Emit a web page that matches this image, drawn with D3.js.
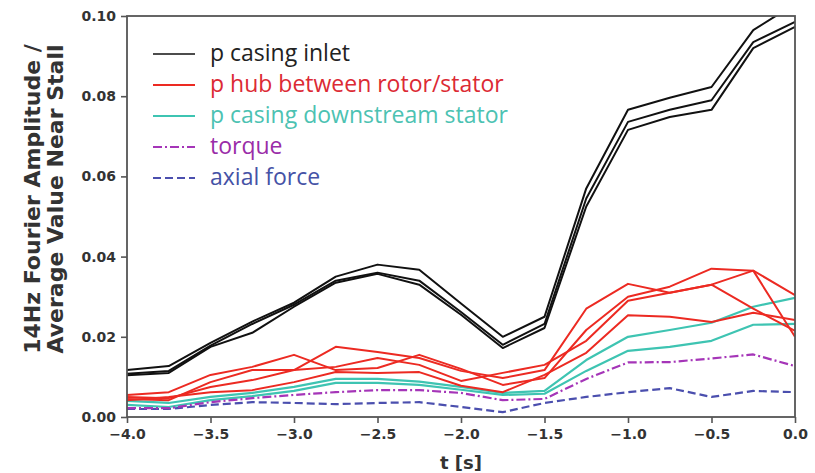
<!DOCTYPE html>
<html>
<head>
<meta charset="utf-8">
<script src="https://cdn.jsdelivr.net/npm/d3@7/dist/d3.min.js"></script>
<style>
  html, body { margin: 0; padding: 0; background: #fff; }
  svg { display: block; }
</style>
</head>
<body>
<svg id="chart" width="815" height="473"></svg>
<script>
// time axis (s before stall)
const times = [-4.0, -3.75, -3.5, -3.25, -3.0, -2.75, -2.5, -2.25, -2.0, -1.75, -1.5, -1.25, -1.0, -0.75, -0.5, -0.25, 0.0];

// casing inlet pressure probes
const casingInletA = [0.0117, 0.0127, 0.0185, 0.0238, 0.0285, 0.0350, 0.0380, 0.0367, 0.0283, 0.0200, 0.0250, 0.0570, 0.0766, 0.0796, 0.0823, 0.0965, 0.1030];
const casingInletB = [0.0108, 0.0115, 0.0178, 0.0232, 0.0280, 0.0340, 0.0360, 0.0340, 0.0262, 0.0180, 0.0232, 0.0545, 0.0736, 0.0766, 0.0790, 0.0935, 0.0985];
const casingInletC = [0.0104, 0.0110, 0.0175, 0.0210, 0.0275, 0.0335, 0.0357, 0.0330, 0.0255, 0.0172, 0.0222, 0.0525, 0.0716, 0.0748, 0.0766, 0.0920, 0.0973];

// hub pressure probes between rotor and stator
const hubA = [0.0050, 0.0047, 0.0075, 0.0092, 0.0117, 0.0175, 0.0162, 0.0147, 0.0115, 0.0097, 0.0117, 0.0270, 0.0332, 0.0310, 0.0330, 0.0365, 0.0304];
const hubB = [0.0055, 0.0062, 0.0105, 0.0125, 0.0155, 0.0117, 0.0122, 0.0155, 0.0120, 0.0080, 0.0097, 0.0217, 0.0300, 0.0325, 0.0370, 0.0365, 0.0200];
const hubC = [0.0045, 0.0042, 0.0087, 0.0117, 0.0117, 0.0125, 0.0147, 0.0130, 0.0090, 0.0110, 0.0130, 0.0190, 0.0290, 0.0310, 0.0330, 0.0270, 0.0215];
const hubD = [0.0042, 0.0050, 0.0062, 0.0067, 0.0087, 0.0112, 0.0110, 0.0112, 0.0078, 0.0062, 0.0105, 0.0160, 0.0254, 0.0250, 0.0237, 0.0260, 0.0242];

// casing pressure probes downstream of the stator
const downstreamA = [0.0040, 0.0035, 0.0050, 0.0060, 0.0075, 0.0095, 0.0095, 0.0088, 0.0075, 0.0060, 0.0065, 0.0142, 0.0200, 0.0217, 0.0235, 0.0275, 0.0297];
const downstreamB = [0.0030, 0.0025, 0.0042, 0.0052, 0.0065, 0.0085, 0.0085, 0.0080, 0.0068, 0.0055, 0.0058, 0.0115, 0.0165, 0.0175, 0.0190, 0.0230, 0.0232];

// rotor loads
const torque = [0.0022, 0.0022, 0.0037, 0.0047, 0.0055, 0.0062, 0.0067, 0.0067, 0.0060, 0.0042, 0.0045, 0.0095, 0.0136, 0.0137, 0.0146, 0.0156, 0.0127];
const axialForce = [0.0020, 0.0020, 0.0030, 0.0037, 0.0035, 0.0032, 0.0035, 0.0037, 0.0025, 0.0012, 0.0035, 0.0050, 0.0062, 0.0072, 0.0050, 0.0065, 0.0062];

const xTicks = [-4.0, -3.5, -3.0, -2.5, -2.0, -1.5, -1.0, -0.5, 0.0];
const yTicks = [0.00, 0.02, 0.04, 0.06, 0.08, 0.10];

const legendLabels = ["p casing inlet", "p hub between rotor/stator", "p casing downstream stator", "torque", "axial force"];

// ---- styles ----
const styles = {
  inlet:      { color: "#111111", dash: null,        width: 2.0 },
  hub:        { color: "#ec2a22", dash: null,        width: 2.0 },
  downstream: { color: "#3ec4b2", dash: null,        width: 2.2 },
  torque:     { color: "#a535b8", dash: "9,3,2,3",   width: 2.2 },
  axial:      { color: "#4b4fae", dash: "8,4",       width: 2.2 }
};
const legendText = ["#222222", "#dc2a34", "#4cc2b2", "#9a2ca8", "#4552a6"];

const series = [
  { key: "inlet", values: casingInletA }, { key: "inlet", values: casingInletB }, { key: "inlet", values: casingInletC },
  { key: "downstream", values: downstreamA }, { key: "downstream", values: downstreamB },
  { key: "axial", values: axialForce },
  { key: "torque", values: torque },
  { key: "hub", values: hubA }, { key: "hub", values: hubB }, { key: "hub", values: hubC }, { key: "hub", values: hubD }
];

const margin = { left: 127, right: 20, top: 16, bottom: 56 };
const W = 815, H = 473;
const iw = W - margin.left - margin.right;
const ih = H - margin.top - margin.bottom;

const x = d3.scaleLinear().domain([-4, 0]).range([0, iw]);
const y = d3.scaleLinear().domain([0, 0.10]).range([ih, 0]);

const svg = d3.select("#chart");
const g = svg.append("g").attr("transform", `translate(${margin.left},${margin.top})`);

g.append("defs").append("clipPath").attr("id", "plotClip")
  .append("rect").attr("x", 0).attr("y", 0).attr("width", iw).attr("height", ih);

const line = d3.line().x((d, i) => x(times[i])).y(d => y(d));

const lines = g.append("g").attr("clip-path", "url(#plotClip)");
series.forEach(s => {
  const st = styles[s.key];
  lines.append("path")
    .datum(s.values)
    .attr("d", line)
    .attr("fill", "none")
    .attr("stroke", st.color)
    .attr("stroke-width", st.width)
    .attr("stroke-linejoin", "round")
    .attr("stroke-dasharray", st.dash);
});

// axes
const axisColor = "#555";
const tickFont = "DejaVu Sans, sans-serif";

const xAxis = g.append("g").attr("transform", `translate(0,${ih})`)
  .call(d3.axisBottom(x).tickValues(xTicks).tickFormat(d => d3.format(".1f")(d).replace("-", "\u2212")).tickSize(6).tickPadding(6));
const yAxis = g.append("g")
  .call(d3.axisLeft(y).tickValues(yTicks).tickFormat(d3.format(".2f")).tickSize(6).tickPadding(5));

[xAxis, yAxis].forEach(a => {
  a.select(".domain").remove();
  a.selectAll(".tick line").attr("stroke", axisColor).attr("stroke-width", 1.6);
  a.selectAll(".tick text")
    .attr("fill", "#333")
    .style("font-family", tickFont)
    .style("font-size", "14px")
    .style("font-weight", "bold");
});

// frame
g.append("rect").attr("x", 0).attr("y", 0).attr("width", iw).attr("height", ih)
  .attr("fill", "none").attr("stroke", axisColor).attr("stroke-width", 1.8);

// axis titles
svg.append("text")
  .attr("x", margin.left + iw / 2).attr("y", 469)
  .attr("text-anchor", "middle")
  .style("font-family", tickFont).style("font-size", "18px").style("font-weight", "bold")
  .attr("fill", "#333")
  .text("t [s]");

const yTitle = svg.append("text")
  .attr("transform", "rotate(-90)")
  .attr("text-anchor", "middle")
  .style("font-family", tickFont).style("font-size", "22px").style("font-weight", "bold")
  .attr("fill", "#333");
yTitle.append("tspan").attr("x", -199).attr("y", 40).text("14Hz Fourier Amplitude /");
yTitle.append("tspan").attr("x", -199).attr("y", 63).text("Average Value Near Stall");

// legend
const legendKeys = ["inlet", "hub", "downstream", "torque", "axial"];
const legend = svg.append("g");
legendKeys.forEach((k, i) => {
  const st = styles[k];
  const cy = 54 + i * 31;
  legend.append("line")
    .attr("x1", 153).attr("x2", 195).attr("y1", cy).attr("y2", cy)
    .attr("stroke", st.color).attr("stroke-width", k === "inlet" ? 1.6 : 1.8)
    .attr("stroke-dasharray", st.dash);
  legend.append("text")
    .attr("x", 210).attr("y", cy).attr("dy", "0.3em")
    .style("font-family", "Open Sans, sans-serif").style("font-size", "23px")
    .attr("fill", legendText[i])
    .text(legendLabels[i]);
});
</script>
</body>
</html>
